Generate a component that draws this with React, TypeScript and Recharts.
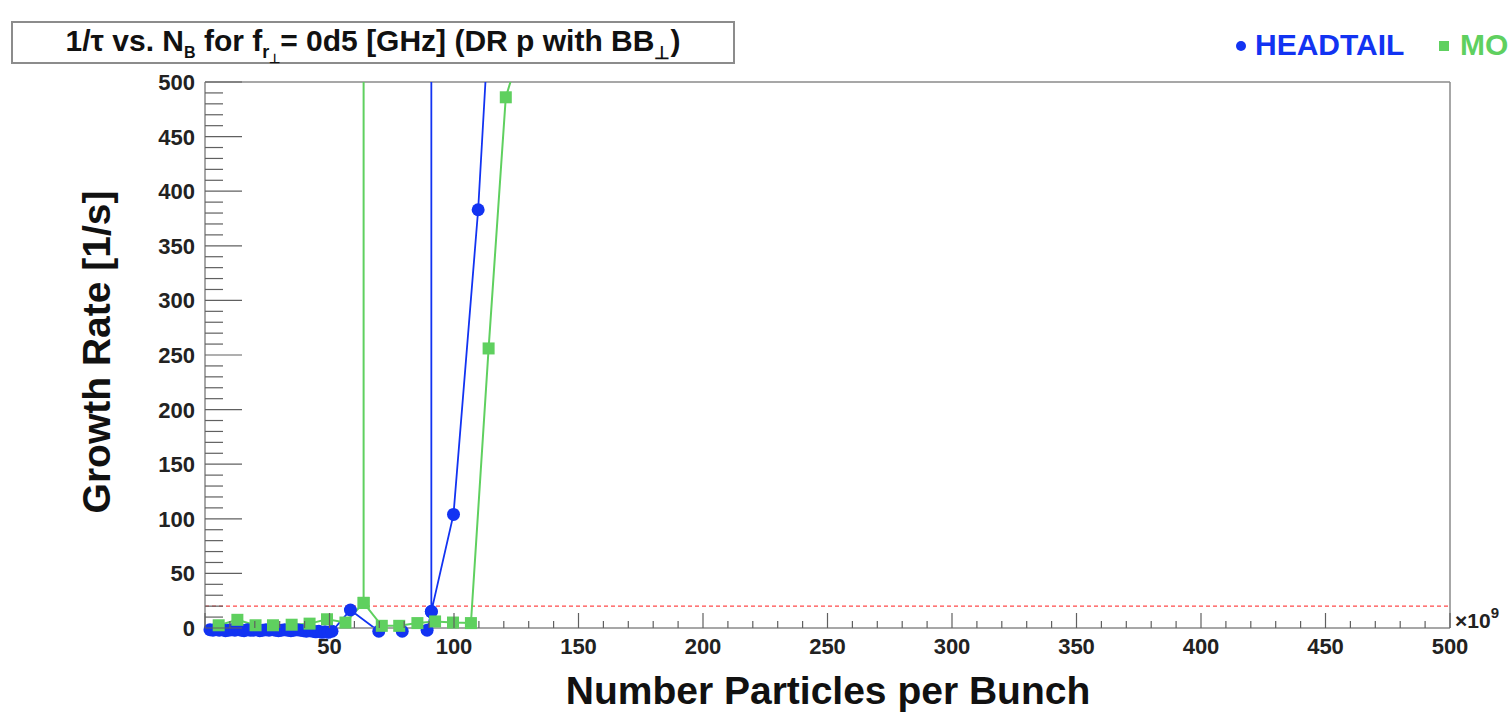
import React from 'react';
import { LineChart, Line, XAxis, YAxis, ReferenceLine } from 'recharts';

// ---- data (x in units of 1e9 particles, y = growth rate [1/s]) ----
const headtailX = [
  2, 3.2, 4.5, 5.7, 7, 8.2, 9.5, 10.7, 12, 13.2,
  14.5, 15.7, 17, 18.2, 19.5, 20.7, 22, 23.2, 24.5, 25.7,
  27, 28.2, 29.5, 30.7, 32, 33.2, 34.5, 35.7, 37, 38.2,
  39.5, 40.7, 42, 43.2, 44.5, 45.7, 47, 48.2, 49.5, 51,
  58.4, 69.8, 79.2, 89.2, 90.9, 90.9, 90.9, 99.8, 109.7, 120,
];
const headtailY = [
  -1.5, -2, -1, -2, -1.5, -2.5, -2, -1.5, -2, -1,
  -2, -2.5, -1.5, -2, -2, -1.5, -2.5, -2, -1.5, -2,
  -1, -2, -2.5, -2, -1.5, -2, -2.5, -2, -1.5, -2,
  -2.5, -3, -2.5, -3, -3.5, -3, -4, -3.5, -4, -3,
  16.5, -3, -3, -2, 15, 5000, 15, 104, 383, 795,
];

const mosesX = [5.5, 13, 20.3, 27.3, 34.8, 42, 49, 56.4, 63.7, 63.7, 63.7, 71, 78, 85.3, 92.4, 99.6, 106.8, 113.9, 120.8, 128];
const mosesY = [2.5, 7.5, 2.5, 2.5, 3, 4, 8, 5, 23, 5000, 23, 2, 2, 4.5, 6, 5, 4.5, 256, 486, 540];

const xTicks = [0, 10, 20, 30, 40, 50, 60, 70, 80, 90, 100, 110, 120, 130, 140, 150, 160, 170, 180, 190, 200, 210, 220, 230, 240, 250, 260, 270, 280, 290, 300, 310, 320, 330, 340, 350, 360, 370, 380, 390, 400, 410, 420, 430, 440, 450, 460, 470, 480, 490, 500];
const yTicks = [0, 10, 20, 30, 40, 50, 60, 70, 80, 90, 100, 110, 120, 130, 140, 150, 160, 170, 180, 190, 200, 210, 220, 230, 240, 250, 260, 270, 280, 290, 300, 310, 320, 330, 340, 350, 360, 370, 380, 390, 400, 410, 420, 430, 440, 450, 460, 470, 480, 490, 500];
const majorStep = 50;
const xMax = 500;
const yMax = 500;
const thresholdRate = 20;

const seriesNames = ['HEADTAIL', 'MOSES'];

// ---- style ----
const FONT = '"Liberation Sans", Arial, Helvetica, sans-serif';
const BLUE = '#1233f2';
const GREEN = '#5fd05f';
const FRAME = '#8a8a8a';
const TICK = '#606060';

const headtail = headtailX.map((x, i) => ({ x, y: headtailY[i] }));
const moses = mosesX.map((x, i) => ({ x, y: mosesY[i] }));
const mosesMarkers = moses.filter((p) => p.y <= yMax && p.y >= 0);

function XTick(props: any) {
  const { x, y, payload } = props;
  const v = payload.value;
  const major = v % majorStep === 0;
  return (
    <g>
      <line x1={x} x2={x} y1={y} y2={y - (major ? 15 : 7)} stroke={TICK} strokeWidth={1.2} />
      {major && v !== 0 && (
        <text x={x} y={y + 26} textAnchor="middle" fontFamily={FONT} fontWeight="bold" fontSize={22} fill="#222">
          {v}
        </text>
      )}
      {v === xMax && (
        <text x={x + 5} y={y} fontFamily={FONT} fontWeight="bold" fontSize={21} fill="#222">
          ×10<tspan dy={-10} fontSize={15}>9</tspan>
        </text>
      )}
    </g>
  );
}

function YTick(props: any) {
  const { x, y, payload } = props;
  const v = payload.value;
  const major = v % majorStep === 0;
  return (
    <g>
      <line x1={x} x2={x + (major ? 37 : 18)} y1={y} y2={y} stroke={TICK} strokeWidth={1.2} />
      {major && (
        <text x={x - 10} y={y + 8} textAnchor="end" fontFamily={FONT} fontWeight="bold" fontSize={22} fill="#222">
          {v}
        </text>
      )}
    </g>
  );
}

function SquareDot(props: any) {
  const { cx, cy } = props;
  if (cx == null || cy == null) return null;
  return <rect x={cx - 6} y={cy - 6} width={12} height={12} fill={GREEN} />;
}

export default function App() {
  return (
    <div style={{ position: 'fixed', left: 0, top: 0, width: 1509, height: 716, overflow: 'hidden', background: '#fff' }}>
      <LineChart width={1509} height={716} margin={{ top: 82, right: 59, bottom: 0, left: 0 }}>
        <XAxis
          type="number"
          dataKey="x"
          domain={[0, xMax]}
          ticks={xTicks}
          interval={0}
          tickSize={0}
          tickMargin={0}
          tickLine={false}
          tick={<XTick />}
          height={88}
          axisLine={{ stroke: FRAME, strokeWidth: 1.5 }}
        />
        <YAxis
          yAxisId="main"
          type="number"
          dataKey="y"
          domain={[0, yMax]}
          allowDataOverflow
          ticks={yTicks}
          interval={0}
          tickSize={0}
          tickMargin={0}
          tickLine={false}
          tick={<YTick />}
          width={205}
          axisLine={{ stroke: FRAME, strokeWidth: 1.5 }}
        />
        <YAxis yAxisId="mk" type="number" dataKey="y" domain={[0, yMax]} hide />
        <ReferenceLine yAxisId="main" y={yMax} stroke={FRAME} strokeWidth={1.5} />
        <ReferenceLine yAxisId="main" x={xMax} stroke={FRAME} strokeWidth={1.5} />
        <ReferenceLine yAxisId="main" y={thresholdRate} stroke="#ff4a4a" strokeWidth={1.3} strokeDasharray="4 3" />
        <Line
          yAxisId="main"
          data={headtail}
          dataKey="y"
          name={seriesNames[0]}
          stroke={BLUE}
          strokeWidth={1.8}
          dot={{ r: 6.5, fill: BLUE, stroke: 'none', strokeWidth: 30, clipDot: false }}
          activeDot={false}
          isAnimationActive={false}
        />
        <Line
          yAxisId="main"
          data={moses}
          dataKey="y"
          name={seriesNames[1]}
          stroke={GREEN}
          strokeWidth={2}
          dot={false}
          activeDot={false}
          isAnimationActive={false}
        />
        <Line
          yAxisId="mk"
          data={mosesMarkers}
          dataKey="y"
          name={seriesNames[1] + ' markers'}
          stroke="none"
          dot={<SquareDot />}
          activeDot={false}
          isAnimationActive={false}
        />
      </LineChart>
      <svg width={1509} height={716} style={{ position: 'absolute', left: 0, top: 0, pointerEvents: 'none' }}>
        <rect x={12} y={22} width={722} height={41} fill="#fff" stroke="#8c8c8c" strokeWidth={2} />
        <text x={373} y={51} textAnchor="middle" fontFamily={FONT} fontWeight="bold" fontSize={30} fill="#111">
          1/τ vs. N<tspan dy={7} fontSize={16}>B</tspan>
          <tspan dy={-7}> for f</tspan>
          <tspan dy={7} fontSize={18}>r</tspan>
          <tspan dy={5} fontSize={13}>⊥</tspan>
          <tspan dy={-12}>= 0d5 [GHz] (DR p with BB</tspan>
          <tspan dy={8} fontSize={18}>⊥</tspan>
          <tspan dy={-8}>)</tspan>
        </text>
        <circle cx={1241} cy={46} r={5} fill={BLUE} />
        <text x={1255} y={55} fontFamily={FONT} fontWeight="bold" fontSize={30} fill={BLUE}>
          {seriesNames[0]}
        </text>
        <rect x={1439} y={41} width={10} height={10} fill={GREEN} />
        <text x={1460} y={55} fontFamily={FONT} fontWeight="bold" fontSize={30} fill={GREEN}>
          {seriesNames[1]}
        </text>
        <text
          x={110}
          y={352}
          transform="rotate(-90, 110, 352)"
          textAnchor="middle"
          fontFamily={FONT}
          fontWeight="bold"
          fontSize={39}
          fill="#111"
        >
          Growth Rate [1/s]
        </text>
        <text x={828} y={704} textAnchor="middle" fontFamily={FONT} fontWeight="bold" fontSize={39} fill="#111">
          Number Particles per Bunch
        </text>
      </svg>
    </div>
  );
}
